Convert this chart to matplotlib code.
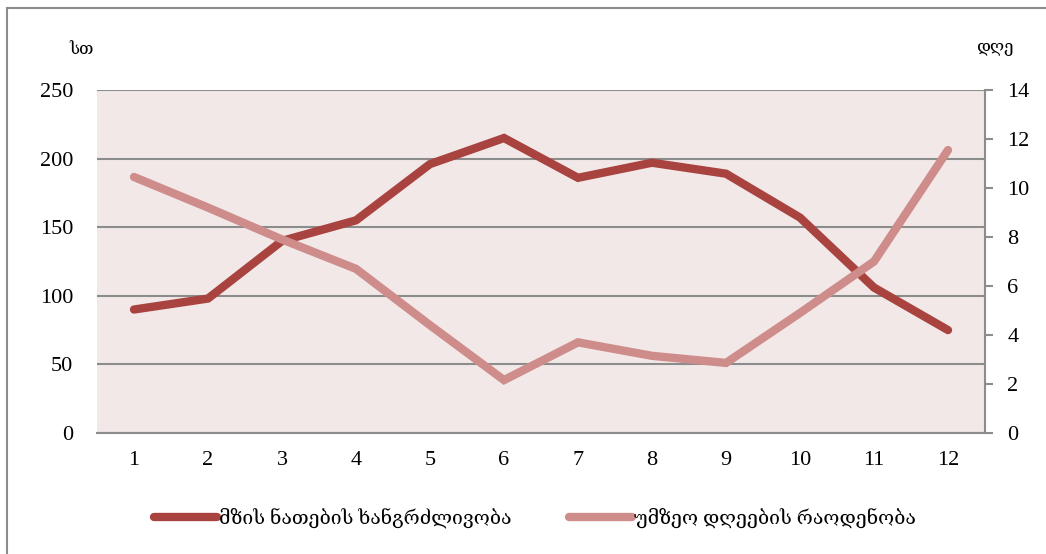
import matplotlib
matplotlib.use("Agg")
import matplotlib.pyplot as plt
from matplotlib.lines import Line2D

plt.rcParams['font.family'] = ['Liberation Serif', 'DejaVu Serif', 'DejaVu Sans']

months = list(range(1, 13))
sun_hours = [90, 98, 140, 155, 196, 215, 186, 197, 189, 157, 106, 75]
cloudy_days = [10.45, 9.2, 7.9, 6.7, 4.4, 2.16, 3.7, 3.15, 2.86, 4.9, 7.0, 11.55]
label_hours = "მზის ნათების ხანგრძლივობა"
label_days = "უმზეო დღეების რაოდენობა"

dark = '#A9433F'
light = '#CE8C8B'
grid_col = '#8C8C8C'

fig = plt.figure(figsize=(10.46, 5.54), dpi=100)
ax = fig.add_axes([97/1046, 1 - 433/554, 888/1046, 343/554])
ax2 = ax.twinx()

ax.set_facecolor('#F2E8E8')
x = range(len(months))
l1, = ax.plot(x, sun_hours, color=dark, lw=6, solid_capstyle='round', solid_joinstyle='miter', label=label_hours)
l2, = ax2.plot(x, cloudy_days, color=light, lw=6, solid_capstyle='round', solid_joinstyle='miter', label=label_days)

ax.set_xlim(-0.5, 11.5)
ax.set_ylim(0, 250)
ax.set_yticks(range(0, 251, 50))
ax2.set_ylim(0, 14)
ax2.set_yticks(range(0, 15, 2))
ax.set_xticks(list(x))
ax.set_xticklabels([str(m) for m in months])

ax.yaxis.grid(True, color=grid_col, lw=1.5)
ax.set_axisbelow(True)
for s in ['top', 'left']:
    ax.spines[s].set_visible(False)
    ax2.spines[s].set_visible(False)
ax.spines['bottom'].set_color(grid_col)
ax.spines['bottom'].set_linewidth(1.5)
ax2.spines['bottom'].set_visible(False)
ax.spines['right'].set_visible(False)
ax2.spines['right'].set_color(grid_col)
ax2.spines['right'].set_linewidth(1.5)

ax.tick_params(axis='y', length=0, pad=17, labelsize=16)
ax.tick_params(axis='x', length=0, pad=13, labelsize=16)
ax2.tick_params(axis='y', length=6, width=1.5, color=grid_col, pad=10, labelsize=16)

fig.text(81/1046, 1 - 50/554, "სთ", fontsize=12, ha='center', va='center')
fig.text(995/1046, 1 - 48/554, "დღე", fontsize=12, ha='center', va='center')

fig.legend(handles=[l1, l2], loc='center', bbox_to_anchor=(535/1046, 1 - 518/554),
           ncol=2, frameon=False, fontsize=14, handlelength=3.2, handletextpad=0.1,
           columnspacing=3.0)

# outer chart border (partly cropped in the source image)
fig.add_artist(Line2D([7/1046, 7/1046], [0, 1 - 8/554], transform=fig.transFigure, color='#8C8C8C', lw=1.5))
fig.add_artist(Line2D([7/1046, 1], [1 - 8/554, 1 - 8/554], transform=fig.transFigure, color='#8C8C8C', lw=1.5))

fig.savefig('out.png', dpi=100)
